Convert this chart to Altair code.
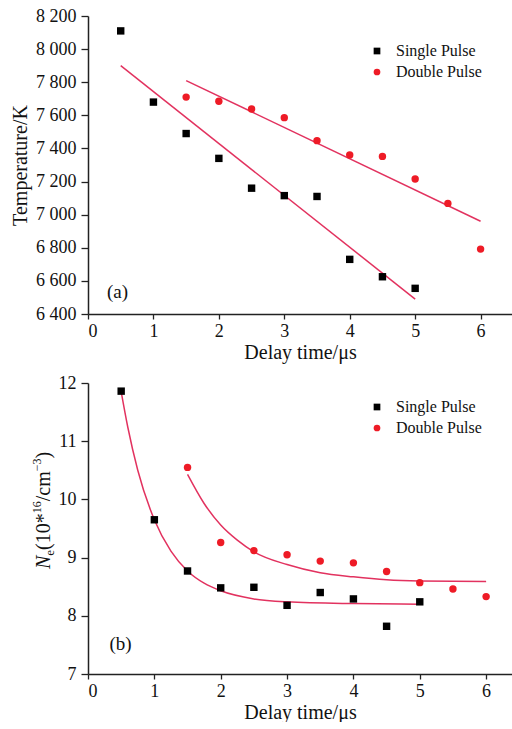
import altair as alt
import pandas as pd

SERIES = ["Single Pulse", "Double Pulse"]

# ---- panel (a): temperature ----
delay_single = [0.5, 1.0, 1.5, 2.0, 2.5, 3.0, 3.5, 4.0, 4.5, 5.0]
temp_single = [8110, 7680, 7490, 7340, 7160, 7115, 7110, 6730, 6625, 6555]
delay_double = [1.5, 2.0, 2.5, 3.0, 3.5, 4.0, 4.5, 5.0, 5.5, 6.0]
temp_double = [7710, 7685, 7638, 7586, 7447, 7360, 7352, 7215, 7068, 6792]
fit_a_single_x = [0.5, 5.0]
fit_a_single_y = [7900, 6490]
fit_a_double_x = [1.5, 6.0]
fit_a_double_y = [7810, 6960]

# ---- panel (b): electron density ----
ne_single = [11.86, 9.65, 8.77, 8.48, 8.49, 8.18, 8.40, 8.29, 7.82, 8.24]
ne_double = [10.55, 9.26, 9.12, 9.05, 8.94, 8.91, 8.76, 8.57, 8.46, 8.33]
fit_b_single_x = [0.5, 0.6, 0.75, 1.0, 1.25, 1.5, 1.75, 2.0, 2.5, 3.0, 4.0, 5.0]
fit_b_single_y = [11.85, 11.24, 10.50, 9.65, 9.11, 8.77, 8.56, 8.43, 8.29, 8.24, 8.21, 8.20]
fit_b_double_x = [1.5, 1.75, 2.0, 2.25, 2.5, 3.0, 3.5, 4.0, 4.5, 5.0, 6.0]
fit_b_double_y = [10.43, 9.93, 9.56, 9.30, 9.10, 8.88, 8.74, 8.67, 8.62, 8.60, 8.59]

x_ticks = [0, 1, 2, 3, 4, 5, 6]
temp_ticks = [6400, 6600, 6800, 7000, 7200, 7400, 7600, 7800, 8000, 8200]
ne_ticks = [7, 8, 9, 10, 11, 12]

FONT = "Liberation Serif"
BLACK = "#000000"
RED = "#ee1b26"
LINE_RED = "#e2325f"


def points_df(xs1, ys1, xs2, ys2):
    return pd.DataFrame({
        "x": xs1 + xs2,
        "y": ys1 + ys2,
        "series": [SERIES[0]] * len(xs1) + [SERIES[1]] * len(xs2),
    })


def make_legend(legend_y):
    return alt.Legend(orient="none", legendX=281, legendY=legend_y, title=None,
                      labelFont=FONT, labelFontSize=16, labelColor="#111",
                      symbolSize=45, labelOffset=11, rowPadding=5, symbolStrokeWidth=0)


def panel(pts, fits, xdom, ydom, yticks, ytitle, label_expr, legend_y, tag, tag_xy):
    xs = alt.Scale(domain=xdom, nice=False, zero=False)
    ys = alt.Scale(domain=ydom, nice=False, zero=False)
    xaxis = alt.Axis(values=x_ticks, title="Delay time/\u03bcs", grid=False, format="d",
                     labelOverlap=False)
    yaxis = alt.Axis(values=yticks, title=ytitle, grid=False, labelExpr=label_expr,
                     labelOverlap=False)
    X = alt.X("x:Q", scale=xs, axis=xaxis)
    Y = alt.Y("y:Q", scale=ys, axis=yaxis)

    lines = alt.Chart(fits).mark_line(color=LINE_RED, strokeWidth=1.5, interpolate="monotone").encode(
        x=X, y=Y, detail="series:N",
    )
    dots = alt.Chart(pts).mark_point(filled=True, size=55, opacity=1).encode(
        x=X, y=Y,
        color=alt.Color("series:N", scale=alt.Scale(domain=SERIES, range=[BLACK, RED]),
                        legend=make_legend(legend_y)),
        shape=alt.Shape("series:N", scale=alt.Scale(domain=SERIES, range=["square", "circle"]),
                        legend=make_legend(legend_y)),
    )
    tag_df = pd.DataFrame({"x": [tag_xy[0]], "y": [tag_xy[1]], "t": [tag]})
    tagmark = alt.Chart(tag_df).mark_text(font=FONT, fontSize=19, align="center", baseline="middle",
                                          color="#111").encode(x=X, y=Y, text="t:N")
    return [lines, dots, tagmark]


temp_pts = points_df(delay_single, temp_single, delay_double, temp_double)
temp_fit = points_df(fit_a_single_x, fit_a_single_y, fit_a_double_x, fit_a_double_y)
ne_pts = points_df(delay_single, ne_single, delay_double, ne_double)
ne_fit = points_df(fit_b_single_x, fit_b_single_y, fit_b_double_x, fit_b_double_y)

top_layers = panel(temp_pts, temp_fit, [0, 6.48], [6400, 8200], temp_ticks, "Temperature/K",
                   "replace(format(datum.value, ','), ',', ' ')", 27, "(a)", [0.45, 6530])
top = alt.layer(*top_layers).properties(width=424, height=298)

bot_layers = panel(ne_pts, ne_fit, [0, 6.39], [7, 12], ne_ticks, None,
                   "format(datum.value, 'd')", 16, "(b)", [0.49, 7.51])

# rich y-axis title for panel (b): N_e(10*^16/cm^-3), built from rotated pieces
pieces = [
    ("N", 20, "italic", 0, 0.667),
    ("e", 13, "normal", 4, 0.444 * 13 / 20),
    ("(10*", 20, "normal", 0, 1.833),
    ("16", 12, "normal", -9, 1.0 * 12 / 20),
    ("/cm", 20, "normal", 0, 1.5),
    ("\u22123", 12, "normal", -9, 1.064 * 12 / 20),
    (")", 20, "normal", 0, 0.333),
]
base_x = -38
cur_y = 186
title_marks = []
for txt, fs, style, shift, em in pieces:
    m = alt.Chart(pd.DataFrame({"t": [txt]})).mark_text(
        angle=270, align="left", baseline="alphabetic", font=FONT, fontSize=fs,
        fontStyle=style, color="#111").encode(
        text="t:N", x=alt.value(base_x + shift), y=alt.value(cur_y))
    title_marks.append(m)
    cur_y -= em * 20

bottom = alt.layer(*bot_layers, *title_marks).properties(width=424, height=291)

chart = alt.vconcat(top, bottom, spacing=12).resolve_scale(
    x="independent", y="independent", color="independent", shape="independent"
).resolve_legend(color="independent", shape="independent").properties(
    padding={"left": 10, "top": 7, "right": 0, "bottom": 0},
    background="white",
).configure_view(stroke=None).configure_axis(
    labelFont=FONT, labelFontSize=18, labelColor="#111",
    titleFont=FONT, titleFontSize=20, titleFontWeight="normal", titleColor="#111",
    domainColor="#222", domainWidth=1.5, tickColor="#222", tickWidth=1.3,
).configure_axisX(tickSize=5, labelPadding=3, titlePadding=2).configure_axisY(
    tickSize=7, labelPadding=5, titlePadding=5
)

chart.save("out.html", embed_options={"renderer": "svg", "actions": False})
